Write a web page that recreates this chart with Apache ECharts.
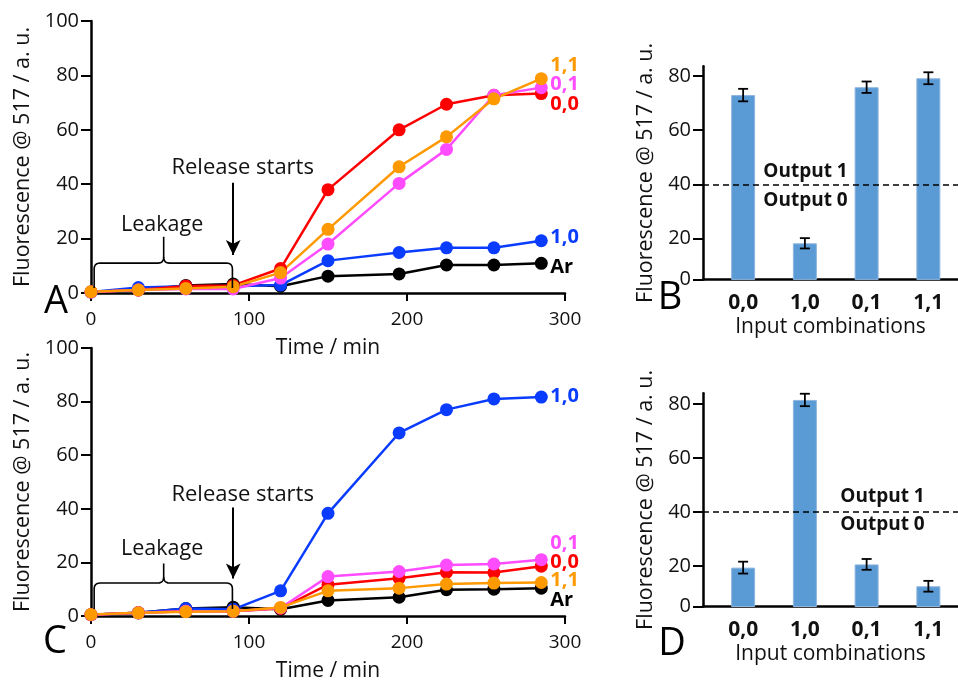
<!DOCTYPE html>
<html><head><meta charset="utf-8">
<script src="https://cdn.jsdelivr.net/npm/echarts@6/dist/echarts.min.js"></script>
<style>html,body{margin:0;padding:0;background:#fff}#c{width:958px;height:683px}</style>
</head><body><div id="c"></div>
<script>
// ---------- DATA ----------
const times = [0, 30, 60, 90, 120, 150, 195, 225, 255, 285];
const lineNames = ['Ar', '1,0', '0,0', '0,1', '1,1'];

// Panel A
const A_Ar  = [0.4, 1.1, 2.8, 3.3, 2.5, 6.2, 7.0, 10.3, 10.3, 10.9];
const A_10  = [0.4, 2.0, 2.5, 2.5, 2.9, 11.9, 14.9, 16.6, 16.6, 19.2];
const A_00  = [0.4, 1.1, 2.6, 2.8, 9.0, 38.0, 60.0, 69.4, 72.7, 73.3];
const A_01  = [0.4, 1.1, 1.5, 1.5, 5.5, 18.0, 40.3, 52.8, 72.7, 75.5];
const A_11  = [0.5, 1.1, 1.7, 2.3, 7.5, 23.4, 46.4, 57.4, 71.4, 78.8];

// Panel C
const C_Ar  = [0.5, 1.2, 2.8, 3.3, 2.5, 5.8, 7.0, 9.8, 10.0, 10.4];
const C_10  = [0.5, 1.2, 2.8, 2.5, 9.4, 38.3, 68.3, 77.0, 81.0, 81.7];
const C_00  = [0.5, 1.2, 1.8, 1.8, 2.8, 11.7, 14.1, 16.3, 16.2, 18.6];
const C_01  = [0.5, 1.2, 1.8, 1.8, 3.0, 14.7, 16.6, 19.0, 19.4, 21.0];
const C_11  = [0.6, 1.2, 1.6, 1.8, 3.2, 9.4, 10.4, 11.9, 12.3, 12.5];

// Bar panels
const categories = ['0,0', '1,0', '0,1', '1,1'];
const B_values = [72.9, 18.3, 75.8, 79.1];
const B_errors = [2.3, 1.9, 2.1, 2.2];
const D_values = [19.4, 81.5, 20.6, 12.5];
const D_errors = [2.2, 2.3, 2.0, 2.0];

const lineYTicks = [0, 20, 40, 60, 80, 100];
const timeTicks = [0, 100, 200, 300];
const barYTicks = [20, 40, 60, 80];
const barAxisFloor = 5;      // bar panels' x-axis sits at this value (labelled 0)
const threshold = 40;
const releaseTime = 90;

// ---------- STYLE ----------
const F = "'Open Sans', sans-serif";
const TXT = '#111';
const colors = { 'Ar': '#000000', '1,0': '#0a3cff', '0,0': '#ff0000', '0,1': '#ff4cff', '1,1': '#ff9900' };
const endOffA = { 'Ar': 4, '1,0': -3, '0,0': 11, '0,1': -3, '1,1': -13 };
const endOffC = { 'Ar': 12, '1,0': -1, '0,0': -4, '0,1': -16, '1,1': -2 };

const chart = echarts.init(document.getElementById('c'), null, { renderer: 'canvas' });

const grids = [
  { left: 91, top: 21, width: 474, height: 272 },      // A
  { left: 703, top: 66.3, width: 255, height: 213.1 }, // B
  { left: 91, top: 348, width: 474, height: 272 },     // C
  { left: 703, top: 393.2, width: 255, height: 213.3 } // D
];

const axisLineStyle = { color: '#000', width: 2.5 };
const yName = 'Fluorescence @ 517 / a. u.';

function lineX(gi) {
  return {
    type: 'value', gridIndex: gi, min: 0, max: 300, interval: 100,
    axisLine: { show: true, onZero: false, lineStyle: axisLineStyle },
    axisTick: { show: true, length: 8, lineStyle: { color: '#000', width: 2 } },
    axisLabel: { fontSize: 19, fontFamily: F, color: TXT, margin: 17 },
    splitLine: { show: false },
    name: 'Time / min', nameLocation: 'middle', nameGap: 45,
    nameTextStyle: { fontSize: 21, fontFamily: F, color: TXT }
  };
}
function lineY(gi) {
  return {
    type: 'value', gridIndex: gi, min: 0, max: 100, interval: 20,
    axisLine: { show: true, onZero: false, lineStyle: axisLineStyle },
    axisTick: { show: true, length: 10, lineStyle: { color: '#000', width: 2 } },
    axisLabel: { fontSize: 20, fontFamily: F, color: TXT, margin: 12 },
    splitLine: { show: false },
    name: yName, nameLocation: 'middle', nameGap: 57,
    nameTextStyle: { fontSize: 21.5, fontFamily: F, color: TXT }
  };
}
function barX(gi) {
  return {
    type: 'value', gridIndex: gi, min: -0.65, max: 3.48,
    axisLine: { show: true, onZero: false, lineStyle: axisLineStyle },
    axisTick: { show: false },
    axisLabel: {
      customValues: categories.map((c, i) => i),
      formatter: v => categories[Math.round(v)] || '',
      fontSize: 21, fontWeight: 'bold', fontFamily: F, color: TXT, margin: 13
    },
    splitLine: { show: false },
    name: 'Input combinations', nameLocation: 'middle', nameGap: 37,
    nameTextStyle: { fontSize: 21, fontFamily: F, color: TXT }
  };
}
function barY(gi, max) {
  const vals = [barAxisFloor].concat(barYTicks);
  return {
    type: 'value', gridIndex: gi, min: barAxisFloor, max: max,
    axisLine: { show: true, onZero: false, lineStyle: axisLineStyle },
    axisTick: { show: true, length: 10, customValues: vals, lineStyle: { color: '#000', width: 2 } },
    axisLabel: { customValues: vals, formatter: v => (v === barAxisFloor ? '0' : String(v)),
      fontSize: 20, fontFamily: F, color: TXT, margin: 12 },
    splitLine: { show: false },
    name: yName, nameLocation: 'middle', nameGap: 46,
    nameTextStyle: { fontSize: 21.5, fontFamily: F, color: TXT }
  };
}

function lineSeries(gi, name, data, offs, extra) {
  const color = colors[name];
  return Object.assign({
    type: 'line', xAxisIndex: gi, yAxisIndex: gi, name: name,
    data: times.map((t, i) => [t, data[i]]),
    symbol: 'circle', symbolSize: 13, showSymbol: true,
    lineStyle: { color: color, width: 2.5 },
    itemStyle: { color: color },
    endLabel: { show: true, formatter: name, color: color, fontWeight: 'bold', fontSize: 20,
      fontFamily: F, distance: 9, offset: [0, offs[name]] },
    emphasis: { disabled: true }
  }, extra || {});
}

const arrowMark = {
  silent: true, symbol: ['none', 'arrow'], symbolSize: [11, 15],
  lineStyle: { color: '#000', width: 2, type: 'solid' }, label: { show: false },
  data: [[{ coord: [releaseTime, 40.5] }, { coord: [releaseTime, 14] }]]
};

function barSeries(gi, vals) {
  return {
    type: 'bar', xAxisIndex: gi, yAxisIndex: gi,
    data: categories.map((c, i) => [i, vals[i]]),
    barWidth: 24, clip: true,
    itemStyle: { color: '#5b9bd5', borderColor: '#8fb5de', borderWidth: 1 },
    emphasis: { disabled: true },
    markLine: {
      silent: true, symbol: 'none', label: { show: false },
      lineStyle: { color: '#000', type: [6, 4], width: 1.5 },
      data: [{ yAxis: threshold }]
    }
  };
}
function errSeries(gi, vals, errs) {
  return {
    type: 'custom', xAxisIndex: gi, yAxisIndex: gi, z: 10,
    data: categories.map((c, i) => [i, vals[i], errs[i]]),
    encode: { x: 0, y: 1 },
    renderItem: (params, api) => {
      const x = api.value(0), v = api.value(1), e = api.value(2);
      const t = api.coord([x, v + e]), b = api.coord([x, v - e]);
      const hw = 5, st = { stroke: '#000', lineWidth: 1.8 };
      return { type: 'group', children: [
        { type: 'line', shape: { x1: t[0], y1: t[1], x2: b[0], y2: b[1] }, style: st },
        { type: 'line', shape: { x1: t[0] - hw, y1: t[1], x2: t[0] + hw, y2: t[1] }, style: st },
        { type: 'line', shape: { x1: b[0] - hw, y1: b[1], x2: b[0] + hw, y2: b[1] }, style: st }
      ]};
    }
  };
}

const series = [
  lineSeries(0, 'Ar', A_Ar, endOffA, { markLine: arrowMark }),
  lineSeries(0, '1,0', A_10, endOffA),
  lineSeries(0, '0,0', A_00, endOffA),
  lineSeries(0, '0,1', A_01, endOffA),
  lineSeries(0, '1,1', A_11, endOffA),
  lineSeries(2, 'Ar', C_Ar, endOffC, { markLine: arrowMark }),
  lineSeries(2, '1,0', C_10, endOffC),
  lineSeries(2, '0,0', C_00, endOffC),
  lineSeries(2, '0,1', C_01, endOffC),
  lineSeries(2, '1,1', C_11, endOffC),
  barSeries(1, B_values), errSeries(1, B_values, B_errors),
  barSeries(3, D_values), errSeries(3, D_values, D_errors)
];

chart.setOption({
  animation: false,
  backgroundColor: '#fff',
  textStyle: { fontFamily: F },
  grid: grids,
  xAxis: [lineX(0), barX(1), lineX(2), barX(3)],
  yAxis: [lineY(0), barY(1, 83.5), lineY(2), barY(3, 84)],
  series: series
});

// ---------- annotations (positioned through the axes) ----------
const annot = [
  { gi: 0, brace: { x0: 2, x1: 89.5, xm: 46, yEnd: 1.8, yBar: 11, yTip: 20.7 }, leak: [45, 25], rel: [96, 45.9] },
  { gi: 2, brace: { x0: 2, x1: 89.5, xm: 46, yEnd: 2.6, yBar: 12.3, yTip: 19.6 }, leak: [45, 25.1], rel: [96, 45.4] }
];
function quad(p0, p1, p2, n) {
  const out = [];
  for (let i = 0; i <= n; i++) {
    const t = i / n, a = (1 - t) * (1 - t), b = 2 * (1 - t) * t, c = t * t;
    out.push([a * p0[0] + b * p1[0] + c * p2[0], a * p0[1] + b * p1[1] + c * p2[1]]);
  }
  return out;
}
const g = [];
annot.forEach(a => {
  const P = p => chart.convertToPixel({ gridIndex: a.gi }, p);
  const b = a.brace;
  const L = P([b.x0, b.yEnd]), LT = P([b.x0, b.yBar]), M = P([b.xm, b.yBar]), MT = P([b.xm, b.yTip]);
  const R = P([b.x1, b.yEnd]), RT = P([b.x1, b.yBar]);
  const r = 6;
  const left = [L].concat(quad([LT[0], LT[1] + r], LT, [LT[0] + r, LT[1]], 6))
    .concat(quad([M[0] - r, M[1]], M, [M[0], M[1] - r], 6)).concat([MT]);
  const right = [R].concat(quad([RT[0], RT[1] + r], RT, [RT[0] - r, RT[1]], 6))
    .concat(quad([M[0] + r, M[1]], M, [M[0], M[1] - r], 6));
  const st = { stroke: '#000', lineWidth: 1.6, fill: null };
  g.push({ type: 'polyline', shape: { points: left }, style: st, z: 100 });
  g.push({ type: 'polyline', shape: { points: right }, style: st, z: 100 });
  const lp = P(a.leak), rp = P(a.rel);
  g.push({ type: 'text', x: lp[0], y: lp[1], style: { text: 'Leakage', font: `21.5px ${F}`, fill: TXT, align: 'center', verticalAlign: 'middle' }, z: 100 });
  g.push({ type: 'text', x: rp[0], y: rp[1], style: { text: 'Release starts', font: `22px ${F}`, fill: TXT, align: 'center', verticalAlign: 'middle' }, z: 100 });
});
// Output labels around the threshold line
[[1, 805.5, -12.6, 16.7], [3, 882.5, -15.6, 12.7]].forEach(([gi, x, up, dn]) => {
  const y = chart.convertToPixel({ gridIndex: gi }, [0, threshold])[1];
  g.push({ type: 'text', x: x, y: y + up, style: { text: 'Output 1', font: `bold 19px ${F}`, fill: TXT, align: 'center', verticalAlign: 'middle' }, z: 100 });
  g.push({ type: 'text', x: x, y: y + dn, style: { text: 'Output 0', font: `bold 19px ${F}`, fill: TXT, align: 'center', verticalAlign: 'middle' }, z: 100 });
});
// Panel letters
[['A', 56, 302], ['B', 670, 298], ['C', 55, 642], ['D', 672, 644]].forEach(([t, x, y]) => {
  g.push({ type: 'text', x: x, y: y, style: { text: t, font: `38px ${F}`, fill: '#000', align: 'center', verticalAlign: 'middle' }, z: 100 });
});
chart.setOption({ graphic: g });
</script>
</body></html>
